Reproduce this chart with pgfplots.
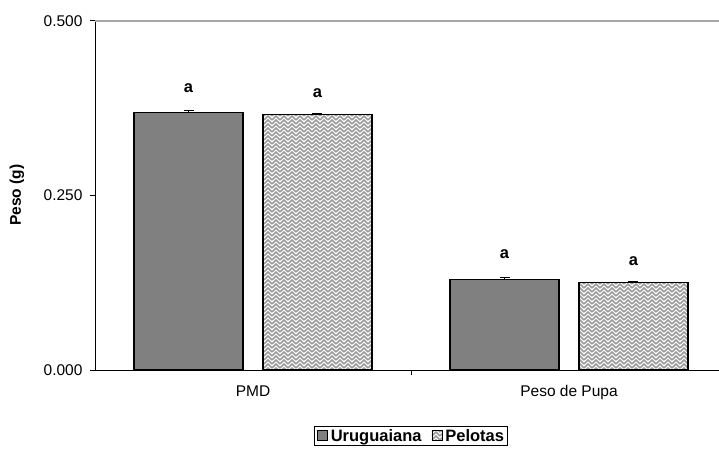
\documentclass[border=0pt]{standalone}
\usepackage{pgfplots}
\pgfplotsset{compat=1.18}
\usepackage{fontspec}
\setmainfont{Liberation Sans}
\usetikzlibrary{patterns}
\definecolor{urucol}{HTML}{808080}
\definecolor{patcol}{HTML}{9C9C9C}
\definecolor{topline}{HTML}{A6A6A6}
\newcommand{\fs}{\fontsize{15.5bp}{18bp}\selectfont}
\newcommand{\fl}{\fontsize{16.5bp}{19bp}\selectfont}
\pgfdeclarepatternformonly{herring}{\pgfqpoint{-1bp}{-1bp}}{\pgfqpoint{9bp}{9bp}}{\pgfqpoint{8bp}{8bp}}{%
  \pgfsetlinewidth{1.5bp}%
  \pgfpathmoveto{\pgfqpoint{0bp}{0bp}}\pgfpathlineto{\pgfqpoint{4bp}{4bp}}\pgfpathlineto{\pgfqpoint{8bp}{0bp}}%
  \pgfpathmoveto{\pgfqpoint{0bp}{4bp}}\pgfpathlineto{\pgfqpoint{4bp}{8bp}}\pgfpathlineto{\pgfqpoint{8bp}{4bp}}%
  \pgfusepath{stroke}}
\begin{document}
\begin{tikzpicture}
\path[use as bounding box] (0bp,0bp) rectangle (719bp,452bp);
\begin{axis}[
  at={(95bp,82bp)}, anchor=south west,
  scale only axis, width=632bp, height=349.3bp,
  xmin=-0.5, xmax=1.5, ymin=0, ymax=0.5,
  axis x line*=bottom, axis y line*=left, axis line style={-, black, line width=1bp},
  clip=false,
  tick label style={font=\fs},
  label style={font=\fs},
  xtick={0,1}, xticklabels={PMD, Peso de Pupa},
  xticklabel style={yshift=-7bp},
  major x tick style={draw=none},
  minor xtick={0.5}, minor x tick style={black, line width=1bp},
  minor tick length=5bp,
  ytick={0,0.25,0.5},
  yticklabel style={xshift=-4bp, /pgf/number format/.cd, fixed, fixed zerofill, precision=3, assume math mode=true},
  major y tick style={black, line width=1bp},
  major tick length=5bp, tick align=outside,
  ylabel={\bfseries Peso (g)},
  ylabel style={at={(axis description cs:-0.1234,0.5)}, anchor=center},
  legend columns=2,
  legend style={at={(0.5,-0.16)}, anchor=north, draw=black, line width=1bp,
    font=\fl\bfseries, inner sep=2.5bp,
    /tikz/every odd column/.append style={column sep=2bp},
    /tikz/every even column/.append style={column sep=9bp},
    nodes={inner sep=1bp, text depth=0pt}},
  legend image code/.code={\draw[#1, line width=0.8bp] (0bp,-5bp) rectangle (10bp,5bp);},
]
\addplot[ybar, bar width=0.345, bar shift=0pt, fill=urucol, draw=black, line width=1.2bp,
  error bars/.cd, y dir=plus, y explicit, error bar style={black, line width=1bp}, error mark options={rotate=90, black, mark size=5bp, line width=1bp}]
  coordinates {(-0.204,0.3681) +- (0,0.0037) (0.796,0.1300) +- (0,0.0024)};
\addlegendentry{Uruguaiana}
\addplot[ybar, bar width=0.345, bar shift=0pt, pattern=herring, pattern color=patcol, draw=black, line width=1.2bp,
  error bars/.cd, y dir=plus, y explicit, error bar style={black, line width=1bp}, error mark options={rotate=90, black, mark size=5bp, line width=1bp}]
  coordinates {(0.204,0.3653) +- (0,0.0023) (1.204,0.1253) +- (0,0.0014)};
\addlegendentry{Pelotas}
\addplot[only marks, mark=none, nodes near coords={\fl\bfseries a},
  every node near coord/.append style={anchor=south, inner sep=0pt, yshift=20bp, black}]
  coordinates {(-0.204,0.3681) (0.796,0.1300)};
\addplot[only marks, mark=none, nodes near coords={\fl\bfseries a},
  every node near coord/.append style={anchor=south, inner sep=0pt, yshift=17bp, black}]
  coordinates {(0.204,0.3653) (1.204,0.1253)};
\draw[topline, line width=2bp] (rel axis cs:0,1) -- (rel axis cs:1,1);
\end{axis}
\end{tikzpicture}
\end{document}
